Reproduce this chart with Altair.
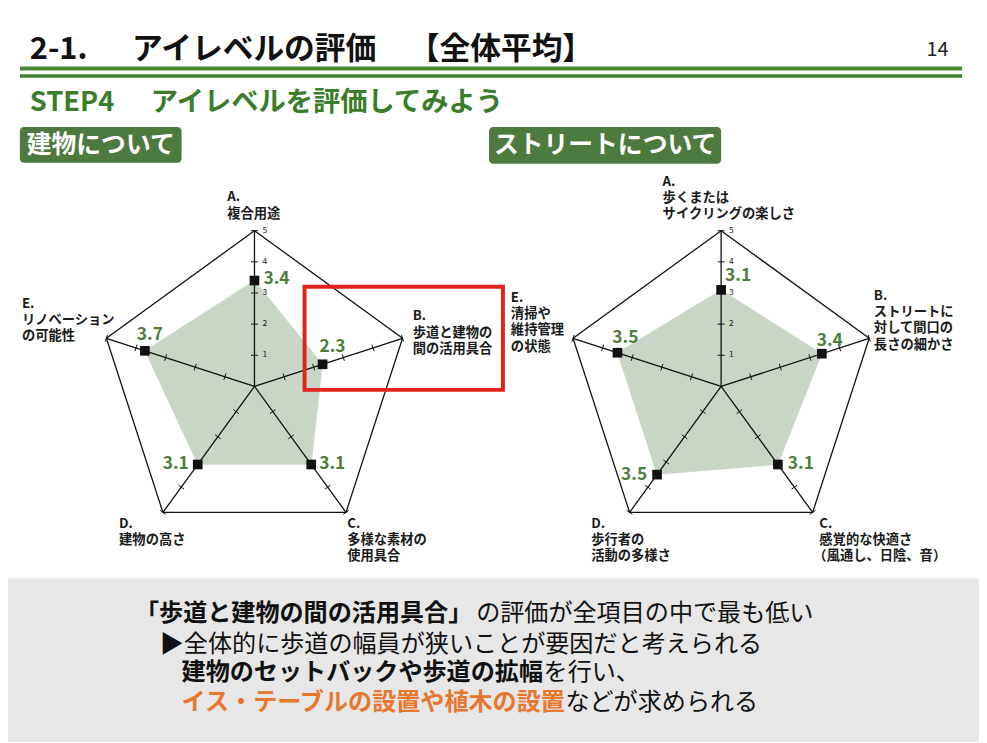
import altair as alt
import pandas as pd
import numpy as np

# ---------------- data ----------------
axis_letters = ["A", "B", "C", "D", "E"]
building_values = [3.4, 2.3, 3.1, 3.1, 3.7]
street_values = [3.1, 3.4, 3.1, 3.5, 3.5]
building_labels = [
    ["A.", "複合用途"],
    ["B.", "歩道と建物の", "間の活用具合"],
    ["C.", "多様な素材の", "使用具合"],
    ["D.", "建物の高さ"],
    ["E.", "リノベーション", "の可能性"],
]
street_labels = [
    ["A.", "歩くまたは", "サイクリングの楽しさ"],
    ["B.", "ストリートに", "対して間口の", "長さの細かさ"],
    ["C.", "感覚的な快適さ", "（風通し、日陰、音）"],
    ["D.", "歩行者の", "活動の多様さ"],
    ["E.", "清掃や", "維持管理", "の状態"],
]
scale_ticks = [1, 2, 3, 4, 5]
scale_max = 5
title_parts = ["2-1.", "アイレベルの評価", "【全体平均】"]
page_number = ["14"]
subtitle_parts = ["STEP4", "アイレベルを評価してみよう"]
section_titles = ["建物について", "ストリートについて"]
summary_texts = [
    "「歩道と建物の間の活用具合」",
    "の評価が全項目の中で最も低い",
    "▶全体的に歩道の幅員が狭いことが要因だと考えられる",
    "建物のセットバックや歩道の拡幅",
    "を行い、",
    "イス・テーブルの設置や植木の設置",
    "などが求められる",
]
summary_styles = ["bold", "normal", "normal", "bold", "normal", "accent", "normal"]

# ---------------- layout / style ----------------
JP = "Noto Sans CJK JP"
W, H = 979, 735
XS = alt.Scale(domain=[8, 987], nice=False, zero=False)
YS = alt.Scale(domain=[8, 743], nice=False, zero=False, reverse=True)
GREEN_LINE = "#478a34"
GREEN_TEXT = "#3a7d2a"
GREEN_BOX = "#4d7a3e"
VALUE_GREEN = "#4f7d3e"
FILL = "#c9d6c5"
RED = "#e2231c"
ORANGE = "#e8772e"
GRAY = "#e7e7e7"
R = 157
ANGLES = [90, 18, -54, -126, 162]


def ex(f="x"):
    return alt.X(f"{f}:Q", scale=XS, axis=None)


def ey(f="y"):
    return alt.Y(f"{f}:Q", scale=YS, axis=None)


def polar(cx, cy, v, k):
    a = np.radians(ANGLES[k])
    r = R * v / scale_max
    return cx + r * np.cos(a), cy - r * np.sin(a)


def text_layer(rows, size, weight, color, align="left", font=JP):
    df = pd.DataFrame(rows, columns=["x", "y", "t"])
    return alt.Chart(df).mark_text(
        align=align, baseline="middle", fontSize=size, fontWeight=weight,
        color=color, font=font
    ).encode(x=ex(), y=ey(), text="t:N")


def rect_layer(rows, **kw):
    df = pd.DataFrame(rows, columns=["x", "x2", "y", "y2"])
    return alt.Chart(df).mark_rect(**kw).encode(
        x=ex(), x2=alt.X2("x2:Q"), y=ey(), y2=alt.Y2("y2:Q"))


def rule_layer(rows, **kw):
    df = pd.DataFrame(rows, columns=["x", "y", "x2", "y2"])
    return alt.Chart(df).mark_rule(**kw).encode(
        x=ex(), y=ey(), x2=alt.X2("x2:Q"), y2=alt.Y2("y2:Q"))


def radar(cx, cy, values, labels, label_pos, val_off):
    layers = []
    n = len(values)
    # filled data polygon
    pts = [polar(cx, cy, values[k % n], k % n) for k in range(n + 1)]
    poly = pd.DataFrame({"x": [p[0] for p in pts], "y": [p[1] for p in pts], "i": range(n + 1)})
    layers.append(alt.Chart(poly).mark_line(fill=FILL, stroke=FILL, strokeWidth=0.5, interpolate="linear-closed").encode(
        x=ex(), y=ey(), order="i:Q"))
    # outer pentagon
    outer = [polar(cx, cy, scale_max, k % n) for k in range(n + 1)]
    odf = pd.DataFrame({"x": [p[0] for p in outer], "y": [p[1] for p in outer], "i": range(n + 1)})
    layers.append(alt.Chart(odf).mark_line(color="#111111", strokeWidth=1.3).encode(
        x=ex(), y=ey(), order="i:Q"))
    # spokes
    spokes = []
    for k in range(n):
        vx, vy = polar(cx, cy, scale_max, k)
        spokes.append((cx, cy, vx, vy))
    layers.append(rule_layer(spokes, color="#111111", strokeWidth=1.3))
    # ticks
    ticks = []
    for k in range(n):
        a = np.radians(ANGLES[k])
        px, py = np.sin(a), np.cos(a)
        for t in scale_ticks:
            x0, y0 = polar(cx, cy, t, k)
            h = 3.5
            ticks.append((x0 - h * px, y0 - h * py, x0 + h * px, y0 + h * py))
    layers.append(rule_layer(ticks, color="#111111", strokeWidth=1))
    # scale numbers on axis A
    nums = []
    for t in scale_ticks:
        x0, y0 = polar(cx, cy, t, 0)
        nums.append((x0 + 8, y0 - 1, str(t)))
    layers.append(text_layer(nums, 8.5, "normal", "#222222"))
    # markers
    mk = pd.DataFrame({"x": [polar(cx, cy, values[k], k)[0] for k in range(n)],
                       "y": [polar(cx, cy, values[k], k)[1] for k in range(n)]})
    layers.append(alt.Chart(mk).mark_square(size=95, color="#111111", opacity=1).encode(x=ex(), y=ey()))
    # value labels
    for al in ["left", "center", "right"]:
        rows = []
        for k in range(n):
            dx, dy, a2 = val_off[k]
            if a2 != al:
                continue
            x0, y0 = polar(cx, cy, values[k], k)
            rows.append((x0 + dx, y0 + dy, f"{values[k]:.1f}"))
        if rows:
            layers.append(text_layer(rows, 17.5, 600, VALUE_GREEN, align=al))
    # axis labels
    rows = []
    for k in range(n):
        bx, by = label_pos[k]
        for j, line in enumerate(labels[k]):
            shift = -6 if line.startswith("（") else 0
            rows.append((bx + shift, by + j * 16.5, line))
    layers.append(text_layer(rows, 13.4, 600, "#1a1a1a"))
    return layers


layers = []
# bottom gray band
layers.append(rect_layer([(0, 990, 580, 745)], color=GRAY))
# header green double line
layers.append(rule_layer([(20, 66, 970, 66)], color=GREEN_LINE, strokeWidth=4))
layers.append(rule_layer([(20, 73.5, 970, 73.5)], color="#3f7f2e", strokeWidth=3.5))
# title
layers.append(text_layer([(30, 47, title_parts[0]), (133, 47, title_parts[1]), (412, 47, title_parts[2])],
                         31, "bold", "#111111"))
layers.append(text_layer([(934, 47, page_number[0])], 20, "normal", "#222222"))
# subtitle
layers.append(text_layer([(30, 101, subtitle_parts[0]), (152, 101, subtitle_parts[1])],
                         27.5, "bold", GREEN_TEXT))
# section boxes
layers.append(rect_layer([(20, 183, 125, 161), (493, 727, 125, 162)], color=GREEN_BOX, cornerRadius=4))
layers.append(text_layer([(101.5, 143, section_titles[0]), (610, 143.5, section_titles[1])],
                         25, "bold", "#ffffff", align="center"))

# radar charts
layers += radar(256.5, 386.5, building_values, building_labels,
                [(229, 196), (416, 316), (350, 525), (120, 525), (22, 303)],
                [(9, -1, "left"), (10, -17, "center"), (8, 0, "left"), (-9, 0, "right"), (5, -16, "center")])
layers += radar(727, 386.5, street_values, street_labels,
                [(668, 180), (881, 295), (826, 525), (596, 525), (515, 297)],
                [(4, -14, "left"), (8, -13, "center"), (10, 0, "left"), (-10, 0, "right"), (8, -15, "center")])

# red highlight box
layers.append(rect_layer([(307, 507, 286, 390)], filled=False, stroke=RED, strokeWidth=4))

# summary text
pos = [(136, 616), (480, 616), (161, 647), (183, 676), (548, 676), (183, 706), (570, 706)]
style_map = {"bold": ("bold", "#111111"), "normal": ("normal", "#111111"), "accent": ("bold", ORANGE)}
for (x0, y0), t, s in zip(pos, summary_texts, summary_styles):
    w, c = style_map[s]
    layers.append(text_layer([(x0, y0, t)], 24.3, w, c))

chart = alt.layer(*layers).properties(
    width=W, height=H, padding=0,
    autosize=alt.AutoSizeParams(type="none"),
    background="#ffffff",
).configure_view(strokeWidth=0)

chart.save("out.html", embed_options={"renderer": "svg", "actions": False})
